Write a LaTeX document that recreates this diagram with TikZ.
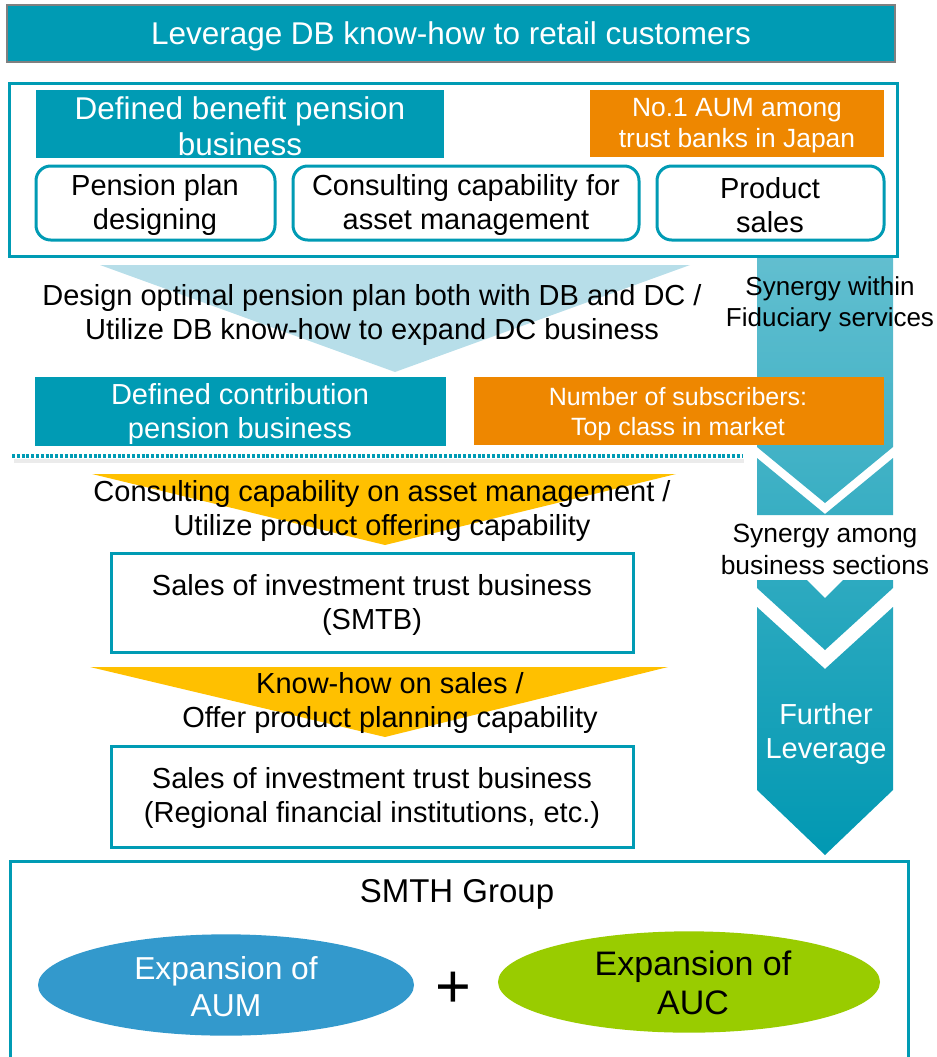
\documentclass[tikz,border=0pt]{standalone}
\usepackage{fontspec}
\setmainfont{Liberation Sans}
\usetikzlibrary{fit,shapes.geometric}
\definecolor{smteal}{RGB}{0,155,180}
\definecolor{smorange}{RGB}{238,135,0}
\definecolor{smsky}{RGB}{183,222,233}
\definecolor{smyellow}{RGB}{255,192,0}
\definecolor{smblue}{RGB}{51,153,204}
\definecolor{smgreen}{RGB}{153,204,0}
\definecolor{coltop}{RGB}{99,191,208}
\definecolor{colbot}{RGB}{0,152,178}
\definecolor{bangray}{RGB}{128,128,128}
\begin{document}
\begin{tikzpicture}[x=0.75pt,y=-0.75pt,
  every node/.style={inner sep=0pt,outer sep=0pt,align=center},
  tealfill/.style={fill=smteal},
  orangefill/.style={fill=smorange},
  roundbox/.style={draw=smteal,line width=2.25pt,fill=white,rounded corners=11pt},
  framebox/.style={draw=smteal,line width=2.25pt,fill=white},
  fbig/.style={font=\fontsize{23.6pt}{27pt}\selectfont},
  fmain/.style={font=\fontsize{21.75pt}{25.5pt}\selectfont},
  fmid/.style={font=\fontsize{19.8pt}{23.5pt}\selectfont},
  fsmall/.style={font=\fontsize{18.75pt}{22.5pt}\selectfont}]

\useasboundingbox (0,0) rectangle (936,1057);

% synergy column: pentagon, chevrons and the big arrow, one vertical gradient
\begin{scope}
  \clip (757,256) -- (893,256) -- (893,447) -- (825,503) -- (757,447) -- cycle
        (757,458) -- (825,514) -- (893,458) -- (893,515) -- (757,515) -- cycle
        (757,580) -- (807,580) -- (825,598) -- (843,580) -- (893,580) -- (893,588) -- (825,650) -- (757,588) -- cycle
        (757,607) -- (825,669) -- (893,607) -- (893,790) -- (825,855) -- (757,790) -- cycle;
  \shade[top color=coltop,bottom color=colbot] (750,250) rectangle (900,860);
\end{scope}

% banner
\node[fit={(7,5) (895,62)}, fill=smteal, draw=bangray, line width=1.5pt] (banner) {};
\node[fbig, text=white] (bannertxt) at (451,36) {Leverage DB know-how to retail customers};

% defined benefit block
\draw[framebox] (9,83) rectangle (897,256);
\node[fit={(36,90) (444,158)}, tealfill] (db) {};
\node[fbig, text=white] (dbtxt) at (240,126) {Defined benefit pension\\business};
\node[fit={(590,90) (884,157)}, orangefill] (dbrank) {};
\node[font=\fontsize{19.8pt}{23.25pt}\selectfont, text=white] (dbranktxt) at (737,126)
  {No.1 AUM among\\trust banks in Japan};
\node[fit={(36,166) (275,240)}, roundbox] (plan) {};
\node[fmain] (plantxt) at (155,205) {Pension plan\\designing};
\node[fit={(293,166) (639,240)}, roundbox] (consult) {};
\node[fmain] (consulttxt) at (466,205) {Consulting capability for\\asset management};
\node[fit={(657,166) (884,240)}, roundbox] (product) {};
\node[fmain] (producttxt) at (770,205) {Product\\sales};

% DB to DC
\fill[smsky] (100,265) -- (690,265) -- (395,372) -- cycle;
\node[fmain] (dbdc) at (372,315)
  {Design optimal pension plan both with DB and DC /\\Utilize DB know-how to expand DC business};
\node[font=\fontsize{19.5pt}{23.25pt}\selectfont] (synfid) at (830,304) {Synergy within\\Fiduciary services};

% defined contribution block
\node[fit={(35,377) (446,446)}, tealfill] (dc) {};
\node[fmain, text=white] (dctxt) at (240,414) {Defined contribution\\pension business};
\node[fit={(474,377) (884,445)}, orangefill] (dcrank) {};
\node[fsmall, text=white] (dcranktxt) at (678,414) {Number of subscribers:\\Top class in market};

\draw[black, opacity=0.08, line width=2.5pt] (14,461) -- (744,461);
\draw[smteal, line width=3pt, dash pattern=on 2.2pt off 1.4pt] (12,456) -- (742,456);

% investment trust sales
\fill[smyellow] (92,474) -- (676,474) -- (385,545) -- cycle;
\node[fmain] (offer) at (382,511)
  {Consulting capability on asset management /\\Utilize product offering capability};
\node[fit={(111,553) (633,652)}, framebox] (smtb) {};
\node[fmain] (smtbtxt) at (372,605) {Sales of investment trust business\\(SMTB)};

\fill[smyellow] (90,667) -- (668,667) -- (385,737) -- cycle;
\node[fmain] (knowhow) at (390,703) {Know-how on sales /\\Offer product planning capability};
\node[fit={(111,746) (633,847)}, framebox] (regional) {};
\node[fmain] (regionaltxt) at (372,798)
  {Sales of investment trust business\\(Regional financial institutions, etc.)};

\node[font=\fontsize{19.8pt}{24pt}\selectfont] (synsec) at (825,549) {Synergy among\\business sections};
\node[fmain, text=white] (further) at (826,734) {Further\\Leverage};

% group result
\draw[framebox] (10,861) rectangle (908,1080);
\node[font=\fontsize{24.75pt}{29pt}\selectfont] (group) at (457,894) {SMTH Group};
\node[ellipse, minimum width=282pt, minimum height=76pt, fill=smblue] (aum) at (226,985) {};
\node[font=\fontsize{23.8pt}{27.75pt}\selectfont, text=white] (aumtxt) at (226,987) {Expansion of\\AUM};
\node[font=\fontsize{46pt}{46pt}\selectfont] (plus) at (453,990) {+};
\node[ellipse, minimum width=286.5pt, minimum height=76pt, fill=smgreen] (auc) at (689,982) {};
\node[font=\fontsize{25.5pt}{29.25pt}\selectfont] (auctxt) at (693,983) {Expansion of\\AUC};
\end{tikzpicture}
\end{document}
